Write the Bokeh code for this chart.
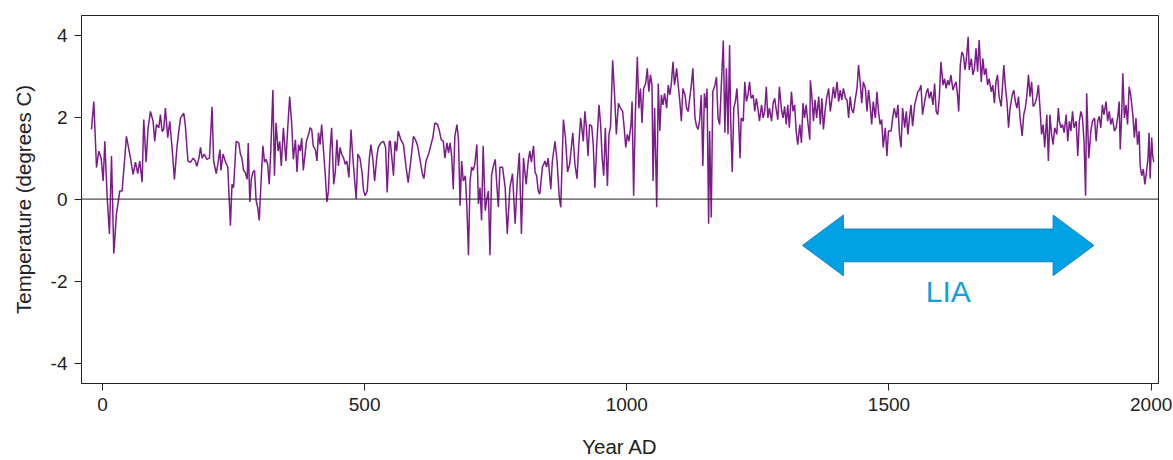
from bokeh.plotting import figure
from bokeh.models import Range1d, FixedTicker, Span, Label
from bokeh.embed import file_html
from bokeh.resources import INLINE

years = [-21, -16.5, -11.4, -7, -2.5, 1.3, 4.5, 8.9, 13.3, 17.2, 21.6, 26.7, 33, 37.5, 45.7, 53.4, 58.4, 62.9,
         67.3, 71.1, 75.6, 78.7, 83.2, 87, 91.5, 96.5, 99.7, 102.9, 107.3, 110.5, 113.7, 116.8, 120, 124.5,
         128.3, 132.7, 137.2, 142.3, 146,
         149, 155, 158, 163, 168, 173, 177, 180, 184, 187, 190, 194, 199, 204, 209, 212, 217, 220, 224, 226,
         230, 234, 239, 244, 247, 250, 255, 260, 263, 266, 269, 272, 276, 278, 281, 284, 287, 290, 293, 296,
         299, 303, 306, 309, 312, 315, 318, 321, 325, 328, 331, 335, 338, 341, 345, 350, 353, 357,
         361, 364, 368, 371, 374, 377, 380, 383, 389, 393, 396, 399, 402, 406, 409, 412, 415, 418, 422, 425,
         428, 431, 434, 437, 441, 444, 447, 450, 453, 456, 460, 463, 466, 470, 474, 477, 481, 484, 487, 491,
         495, 498, 501, 505, 509, 512, 516, 519, 523, 526, 531, 536, 540, 543, 547,
         549, 555, 558, 561, 564, 569, 574, 579, 583, 588, 593, 597, 601, 606, 610, 613, 617, 622, 626, 630,
         634, 639, 642, 646, 650, 653, 657, 660, 663, 666, 669, 672, 676, 679, 682, 685, 688, 692, 695, 698,
         701, 704, 707, 710, 714, 717,
         720, 723, 726, 730, 733, 736, 739, 742, 745, 749, 752, 755, 758, 763, 768, 772, 777, 782, 787, 791,
         795, 799, 803, 808, 812, 815, 818, 822, 825, 828, 831, 834, 839, 844, 847, 850, 855, 858, 863, 867,
         871, 874, 879, 883, 887, 891, 897, 901, 905, 909,
         912, 917, 920, 923, 926, 929, 933, 936, 939, 943, 947, 950, 953, 956, 959, 963, 966, 969, 973, 977,
         980, 984, 988, 992, 995, 998, 1001, 1004, 1008, 1010, 1013, 1016, 1020, 1023, 1026, 1029, 1032, 1036,
         1039, 1042, 1045, 1048, 1050, 1053, 1057, 1060, 1063, 1066, 1069, 1072, 1076, 1079, 1082, 1085, 1088,
         1091, 1095, 1098,
         1101, 1104, 1107, 1111, 1114, 1117, 1120, 1123, 1126, 1130, 1133, 1136, 1139, 1142, 1145, 1148, 1151,
         1153, 1156, 1158, 1161, 1164, 1168, 1171, 1174, 1177, 1180, 1184, 1187, 1190, 1193, 1196, 1198, 1201,
         1204, 1207, 1210, 1213, 1216, 1218, 1222, 1225, 1228, 1231, 1234, 1237, 1241, 1244, 1247, 1250, 1253,
         1257, 1260, 1263, 1266, 1269, 1272, 1276, 1279, 1282, 1285, 1288,
         1291, 1295, 1298, 1301, 1304, 1307, 1310, 1314, 1317, 1320, 1323, 1326, 1330, 1333, 1336, 1339, 1342,
         1345, 1349, 1350, 1353, 1356, 1359, 1362, 1366, 1369, 1372, 1375, 1378, 1381, 1385, 1388, 1391, 1394,
         1397, 1401, 1404, 1407, 1410, 1413, 1417, 1420, 1423, 1426, 1429, 1432, 1435, 1439, 1442, 1445, 1448,
         1451, 1455, 1458, 1461, 1464, 1467, 1470, 1474, 1477, 1480,
         1483, 1486, 1489, 1493, 1496, 1499, 1504, 1507, 1510, 1514, 1517, 1520, 1523, 1526, 1530, 1533, 1536,
         1539, 1542, 1545, 1549, 1552, 1555, 1558, 1561, 1564, 1568, 1571, 1574, 1577, 1580, 1584, 1587, 1590,
         1593, 1596, 1599, 1603, 1606, 1609, 1612, 1615, 1618, 1622, 1625, 1628, 1631, 1633, 1636, 1639, 1642,
         1645, 1648, 1651, 1653, 1657, 1660, 1663, 1666, 1669, 1672,
         1676, 1679, 1682, 1685, 1688, 1691, 1695, 1698, 1701, 1704, 1707, 1710, 1714, 1717, 1719, 1722, 1725,
         1728, 1731, 1735, 1738, 1741, 1744, 1747, 1750, 1754, 1757, 1760, 1763, 1766, 1769, 1772, 1775, 1779,
         1782, 1785, 1788, 1791, 1794, 1797, 1801, 1804, 1807, 1810, 1813, 1816, 1820, 1823,
         1825, 1828, 1831, 1834, 1838, 1841, 1844, 1847, 1850, 1853, 1857, 1860, 1863, 1866, 1869, 1872, 1875,
         1877, 1881, 1885, 1888, 1892, 1895, 1898, 1901, 1904, 1907, 1910, 1914, 1917, 1920, 1923, 1926, 1930,
         1933, 1936, 1939, 1941, 1944, 1946, 1949, 1952, 1955, 1958, 1961, 1965, 1968, 1971, 1974, 1977, 1979,
         1982, 1985, 1988, 1991, 1994, 1996, 1998, 2001, 2003, 2005]

temps = [1.7, 2.38, 0.77, 1.17, 1.0, 0.44, 1.41, 0.05, -0.85, 1.05, -1.33, -0.36, 0.2, 0.2, 1.53, 1.0, 0.6, 0.9,
         0.62, 0.93, 0.41, 1.94, 0.9, 1.74, 2.14, 1.9, 1.41, 1.82, 1.74, 2.06, 1.65, 1.7, 2.22, 1.5,
         1.9, 1.26, 0.48, 1.3, 1.7,
         1.98, 2.1, 1.8, 0.93, 0.9, 1.0, 0.93, 0.8, 1.0, 1.26, 1.0, 1.1, 0.97, 1.0, 2.25, 0.93, 0.62, 0.85, 1.21, 0.7,
         1.1, 0.93, 0.78, -0.65, 0.36, 0.28, 1.41, 1.37, 1.1, 1.0, 0.7, 0.66, 0.48, 1.37, -0.07, 0.5, 0.66, 0.7, -0.03, -0.2,
         -0.52, 0.57, 1.3, 0.9, 0.97, 0.85, 0.36, 1.17, 2.66, 0.57, 1.86, 1.17, 1.41, 0.81, 1.74, 0.93, 1.66, 2.5,
         1.82, 0.97, 1.45, 0.66, 1.33, 1.17, 1.49, 0.7, 1.41, 1.58, 1.74, 1.7, 1.3, 1.21, 0.93, 1.62, 1.33, 1.82, 1.1, 0.57,
         -0.07, 0.2, 1.17, 1.74, 0.36, 0.66, 1.45, 0.81, 1.26, 1.1, 1.0, 0.85, 0.93, 0.53, 1.7, 1.1, 0.44, 0.0, 1.1, 1.0,
         0.66, 0.2, 0.08, 0.2, 1.0, 1.33, 0.93, 0.44, 1.0, 1.26, 1.37, 1.41, 1.26, 0.16, 1.41,
         1.41, 0.57, 1.41, 1.17, 1.66, 1.45, 1.33, 0.78, 0.4, 0.93, 1.53, 1.45, 1.3, 0.93, 0.62, 0.5, 0.93, 1.1, 1.3, 1.5,
         1.86, 1.82, 1.7, 1.45, 1.41, 1.0, 1.37, 1.13, 1.37, 1.05, 0.24, 1.53, 1.82, 1.45, -0.16, 0.93, 0.44, 0.57, -0.2, -1.37,
         0.44, 0.78, 0.7, 0.85, 1.33, -0.12,
         0.28, -0.52, 1.3, -0.28, 0.0, 0.2, -1.37, 0.57, 0.78, 0.97, 0.36, -0.2, 0.78, 0.78, 0.28, -0.85, 0.28, 0.62, -0.6, 0.44,
         1.13, -0.85, 1.0, 0.36, 0.93, 1.17, 0.9, 1.3, 0.66, 0.57, 0.2, 0.12, 0.78, 0.93, 0.78, 1.0, 0.24, 0.93, 1.41, 0.93,
         0.08, -0.2, 1.94, 1.49, 0.66, 0.85, 1.62, 0.85, 0.5, 1.45,
         1.98, 1.41, 2.14, 1.74, 1.05, 1.82, 1.78, 1.33, 0.28, 1.41, 2.3, 1.82, 1.0, 0.57, 1.74, 0.32, 1.58, 1.78, 3.39, 2.46,
         1.58, 2.34, 2.22, 2.14, 1.74, 1.26, 1.58, 1.41, 1.82, 2.38, 0.08, 1.98, 3.47, 2.22, 2.7, 1.86, 2.7, 2.82,
         3.19, 2.62, 3.03, 2.78, 0.44, 2.22, -0.2, 2.82, 1.66, 2.54, 2.3, 2.58, 2.22, 2.78, 2.54, 2.82, 3.35,
         2.78, 3.19, 2.78,
         2.4, 1.9, 2.7, 2.54, 2.22, 2.14, 2.46, 2.78, 3.19, 1.98, 1.78, 1.7, 1.94, 2.54, 0.81, 2.58, 2.22,
         2.7, -0.6, 1.66, -0.45, 2.62, 2.78, 2.98, 1.98, 1.82, 2.7, 3.87, 1.62, 3.19, 1.58, 3.76, 1.98, 0.66,
         2.22, 2.38, 2.7, 1.98, 1.0, 1.98, 1.9, 2.86, 2.38, 2.54, 2.86, 2.46, 2.54, 2.14, 2.46, 2.22, 1.9,
         2.3, 1.98, 2.14, 2.74, 1.98, 2.22, 1.9, 2.34, 2.46, 2.18, 1.94,
         2.74, 2.18, 1.98, 2.26, 1.82, 2.3, 1.74, 2.62, 2.14, 2.3, 1.66, 1.33, 1.82, 1.37, 2.34, 1.98, 2.3,
         1.9, 1.45, 2.9, 2.5, 1.9, 2.42, 1.98, 2.5, 1.82, 2.46, 1.7, 2.14, 2.46, 2.7, 2.14, 2.42, 2.74,
         2.46, 2.86, 2.38, 2.66, 2.42, 2.7, 2.46, 2.42, 1.98, 2.5, 2.18, 2.1, 2.38, 2.7, 3.27, 2.86, 2.34,
         2.86, 2.7, 2.14, 2.66, 2.3, 1.82, 2.38, 1.98, 2.62, 2.14,
         1.82, 1.94, 1.26, 1.74, 1.05, 1.66, 1.66, 1.98, 2.22, 1.98, 2.3, 1.58, 1.26, 2.22, 1.74, 2.14, 1.58,
         1.98, 2.3, 1.78, 2.3, 2.46, 2.62, 2.66, 2.78, 2.06, 2.38, 2.58, 2.7, 2.46, 2.62, 2.3, 2.82, 2.14,
         2.06, 2.46, 3.35, 2.78, 2.94, 2.7, 2.9, 2.78, 3.03, 2.66, 2.78, 2.86, 2.5, 2.14, 3.27, 3.59, 3.51,
         3.15, 3.47, 3.96, 3.15, 3.43, 3.03, 3.19, 3.68, 3.11, 3.88,
         2.86, 3.43, 3.03, 3.19, 2.78, 2.94, 2.62, 2.78, 2.34, 2.86, 3.03, 2.5, 2.26, 2.86, 3.27, 2.74, 2.38,
         1.74, 2.22, 2.54, 2.66, 2.38, 2.22, 2.5, 1.98, 1.54, 2.06, 2.22, 2.54, 3.03, 2.5, 2.86, 2.26, 2.34,
         2.5, 2.78, 2.22, 1.58, 1.82, 1.26, 2.06, 0.93, 2.06, 1.58, 1.33, 1.74, 1.58, 2.22,
         1.9, 1.74, 1.82, 1.62, 2.06, 1.41, 1.9, 1.66, 2.14, 1.74, 1.9, 1.05, 1.9, 2.14, 1.98, 1.41, 0.08,
         2.58, 1.0, 1.66, 1.9, 1.98, 1.41, 1.9, 2.02, 1.74, 2.3, 2.06, 2.38, 1.9, 2.14, 1.82, 1.98, 1.66,
         1.74, 1.98, 2.38, 1.21, 2.14, 3.07, 1.98, 2.3, 1.82, 2.74, 2.54, 2.06, 1.5, 1.98, 1.33, 1.66, 0.81,
         0.57, 0.73, 0.36, 0.66, 1.0, 1.62, 0.5, 1.5, 1.05, 0.9]

x_ticks = [0, 500, 1000, 1500, 2000]
y_ticks = [-4, -2, 0, 2, 4]
y_tick_labels = {t: str(t) for t in y_ticks}

# LIA annotation (double-headed arrow)
lia_start, lia_end = 1335, 1891
lia_head_len = 78
lia_center = -1.13
lia_shaft_half = 0.40
lia_head_half = 0.74
lia_label = "LIA"

p = figure(width=1173, height=460, output_backend="svg", toolbar_location=None,
           x_range=Range1d(-40, 2014), y_range=Range1d(-4.5, 4.48),
           min_border_left=81, min_border_right=15, min_border_top=15, min_border_bottom=74)
p.background_fill_color = "white"
p.border_fill_color = "white"
p.outline_line_color = "#222222"
p.outline_line_width = 1
p.xgrid.visible = False
p.ygrid.visible = False

for ax in (p.xaxis[0], p.yaxis[0]):
    ax.axis_line_color = "#222222"
    ax.major_tick_line_color = "#222222"
    ax.major_tick_out = 7
    ax.major_tick_in = 0
    ax.minor_tick_line_color = None
    ax.major_label_text_font = "Liberation Sans"
    ax.major_label_text_font_size = "19px"
    ax.major_label_text_color = "#222222"
    ax.axis_label_text_font = "Liberation Sans"
    ax.axis_label_text_font_size = "20.5px"
    ax.axis_label_text_font_style = "normal"
    ax.axis_label_text_color = "#222222"
    ax.major_label_standoff = 7

p.xaxis.ticker = FixedTicker(ticks=x_ticks)
p.yaxis.ticker = FixedTicker(ticks=y_ticks)
p.yaxis.major_label_overrides = y_tick_labels
p.xaxis.axis_label = "Year AD"
p.yaxis.axis_label = "Temperature (degrees C)"
p.xaxis.axis_label_standoff = 21
p.yaxis.axis_label_standoff = 13

p.add_layout(Span(location=0, dimension="width", line_color="#222222", line_width=1))

p.line(years, temps, line_color="#7b1c8a", line_width=1.5)

ax0, ax1 = lia_start, lia_end
hx0, hx1 = lia_start + lia_head_len, lia_end - lia_head_len
arrow_x = [ax0, hx0, hx0, hx1, hx1, ax1, hx1, hx1, hx0, hx0]
arrow_y = [lia_center, lia_center + lia_head_half, lia_center + lia_shaft_half, lia_center + lia_shaft_half,
           lia_center + lia_head_half, lia_center, lia_center - lia_head_half, lia_center - lia_shaft_half,
           lia_center - lia_shaft_half, lia_center - lia_head_half]
p.patch(arrow_x, arrow_y, fill_color="#00a2e3", line_color="#1f7fbf", line_width=1)

p.add_layout(Label(x=(lia_start + lia_end) / 2, y=lia_center - 1.12, text=lia_label,
                   text_align="center", text_baseline="middle", text_color="#11a0dd",
                   text_font="Liberation Sans", text_font_size="30px"))

open("out.html", "w").write(file_html(p, INLINE))
